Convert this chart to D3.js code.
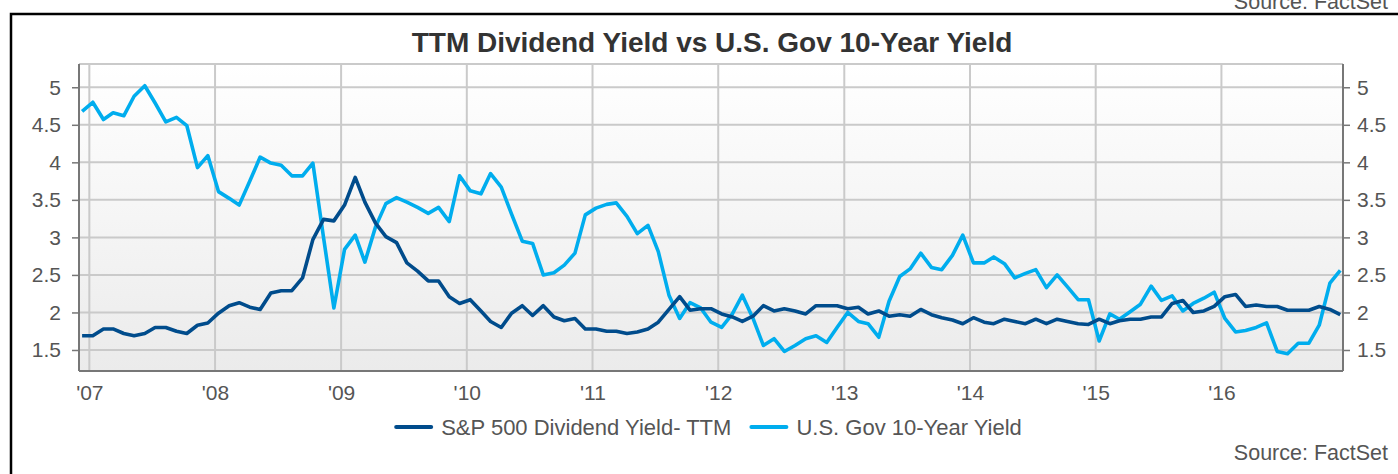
<!DOCTYPE html>
<html>
<head>
<meta charset="utf-8">
<script src="https://cdn.jsdelivr.net/npm/d3@7"></script>
<style>
  html, body { margin: 0; padding: 0; background: #ffffff; }
  svg { display: block; }
  text { font-family: "Liberation Sans", Arial, Helvetica, sans-serif; }
</style>
</head>
<body>
<svg id="chart" width="1398" height="474"></svg>
<script>
// ---------------- DATA ----------------
const chartTitle = "TTM Dividend Yield vs U.S. Gov 10-Year Yield";
const sourceText = "Source: FactSet";
const seriesNames = ["S&P 500 Dividend Yield- TTM", "U.S. Gov 10-Year Yield"];
const seriesColors = ["#004c8c", "#00adee"];
const firstMonth = new Date(2006, 11, 11);   // Dec 2006, monthly observations
const yTicks = [1.5, 2, 2.5, 3, 3.5, 4, 4.5, 5];
const yearTicks = [2007, 2008, 2009, 2010, 2011, 2012, 2013, 2014, 2015, 2016];

// S&P 500 dividend yield (TTM), monthly Dec-2006 .. Dec-2016
const divYield = [
  1.69, 1.69, 1.78, 1.78, 1.72, 1.69, 1.72, 1.80, 1.80, 1.75, 1.72, 1.83,
  1.86, 1.99, 2.09, 2.13, 2.07, 2.04, 2.26, 2.29, 2.29, 2.46, 2.97, 3.24,
  3.22, 3.43, 3.80, 3.47, 3.19, 3.01, 2.93, 2.66, 2.55, 2.42, 2.42, 2.21,
  2.12, 2.17, 2.02, 1.88, 1.80, 1.99, 2.09, 1.96, 2.09, 1.94, 1.89, 1.92,
  1.78, 1.78, 1.75, 1.75, 1.72, 1.74, 1.78, 1.87, 2.04, 2.21, 2.03, 2.05,
  2.05, 1.98, 1.94, 1.88, 1.95, 2.09, 2.02, 2.05, 2.02, 1.98, 2.09, 2.09,
  2.09, 2.05, 2.07, 1.98, 2.02, 1.95, 1.97, 1.95, 2.04, 1.97, 1.93, 1.90,
  1.85, 1.93, 1.87, 1.85, 1.91, 1.88, 1.85, 1.91, 1.85, 1.91, 1.88, 1.85,
  1.84, 1.91, 1.85, 1.89, 1.91, 1.91, 1.94, 1.94, 2.12, 2.16, 2.00, 2.02,
  2.08, 2.21, 2.24, 2.08, 2.10, 2.08, 2.08, 2.03, 2.03, 2.03, 2.08, 2.04,
  1.97
];

// U.S. Government 10-year yield, monthly Dec-2006 .. Dec-2016
const govYield = [
  4.68, 4.80, 4.57, 4.66, 4.62, 4.88, 5.02, 4.79, 4.54, 4.60, 4.49, 3.93,
  4.09, 3.61, 3.52, 3.43, 3.75, 4.07, 3.99, 3.96, 3.82, 3.82, 3.99, 3.00,
  2.06, 2.84, 3.03, 2.67, 3.14, 3.45, 3.53, 3.47, 3.40, 3.32, 3.40, 3.21,
  3.82, 3.62, 3.58, 3.85, 3.67, 3.31, 2.95, 2.92, 2.50, 2.53, 2.63, 2.79,
  3.30, 3.39, 3.44, 3.46, 3.28, 3.05, 3.16, 2.81, 2.23, 1.92, 2.13, 2.06,
  1.87, 1.80, 1.98, 2.23, 1.92, 1.56, 1.65, 1.48, 1.56, 1.65, 1.69, 1.60,
  1.80, 2.00, 1.88, 1.85, 1.67, 2.15, 2.48, 2.58, 2.79, 2.60, 2.57, 2.76,
  3.03, 2.66, 2.66, 2.74, 2.65, 2.46, 2.52, 2.57, 2.33, 2.50, 2.34, 2.17,
  2.17, 1.62, 1.98, 1.91, 2.01, 2.11, 2.35, 2.16, 2.22, 2.02, 2.12, 2.19,
  2.27, 1.92, 1.74, 1.76, 1.80, 1.86, 1.48, 1.45, 1.59, 1.59, 1.83, 2.39,
  2.56
];

// ---------------- CHART ----------------
const svg = d3.select("#chart");
const W = 1398, H = 474;
const plot = { left: 79, right: 1343, top: 64, bottom: 371 };

const dates = divYield.map((d, i) => d3.timeMonth.offset(firstMonth, i));

const x = d3.scaleTime()
  .domain([new Date(2006, 11, 2), new Date(2016, 11, 19)])
  .range([plot.left, plot.right]);
const y = d3.scaleLinear()
  .domain([1.22, 5.31])
  .range([plot.bottom, plot.top]);

// outer frame
svg.append("path")
  .attr("d", `M11,${H + 20} V14 H${W + 20}`)
  .attr("fill", "none").attr("stroke", "#000").attr("stroke-width", 2.5);

// source text at top, partly above the page edge as in the original
svg.append("text")
  .attr("x", 1388).attr("y", 9)
  .attr("text-anchor", "end")
  .attr("font-size", 21.5).attr("fill", "#555")
  .text(sourceText);

// title
svg.append("text")
  .attr("x", (plot.left + plot.right) / 2 + 1).attr("y", 52)
  .attr("text-anchor", "middle")
  .attr("font-size", 28).attr("font-weight", "bold").attr("fill", "#333")
  .text(chartTitle);

// plot background gradient
const defs = svg.append("defs");
const grad = defs.append("linearGradient").attr("id", "bg")
  .attr("x1", 0).attr("y1", 0).attr("x2", 0).attr("y2", 1);
grad.append("stop").attr("offset", "0%").attr("stop-color", "#ffffff");
grad.append("stop").attr("offset", "100%").attr("stop-color", "#ebebeb");

svg.append("rect")
  .attr("x", plot.left).attr("y", plot.top)
  .attr("width", plot.right - plot.left).attr("height", plot.bottom - plot.top)
  .attr("fill", "url(#bg)");

// gridlines
const grid = svg.append("g");
grid.selectAll(".hg").data(yTicks).enter().append("line")
  .attr("x1", plot.left).attr("x2", plot.right)
  .attr("y1", d => y(d)).attr("y2", d => y(d))
  .attr("stroke", "#cacaca").attr("stroke-width", 2);
grid.selectAll(".vg").data(yearTicks).enter().append("line")
  .attr("x1", d => x(new Date(d, 0, 1))).attr("x2", d => x(new Date(d, 0, 1)))
  .attr("y1", plot.top).attr("y2", plot.bottom)
  .attr("stroke", "#cacaca").attr("stroke-width", 2);
// plot top border
grid.append("line")
  .attr("x1", plot.left).attr("x2", plot.right)
  .attr("y1", plot.top).attr("y2", plot.top)
  .attr("stroke", "#cacaca").attr("stroke-width", 2);

// axes
const axisColor = "#777";
const fmtY = d3.format("");
const leftAxis = d3.axisLeft(y).tickValues(yTicks).tickSize(7).tickPadding(11).tickFormat(fmtY);
const rightAxis = d3.axisRight(y).tickValues(yTicks).tickSize(7).tickPadding(7).tickFormat(fmtY);
const bottomAxis = d3.axisBottom(x)
  .tickValues(yearTicks.map(d => new Date(d, 0, 1)))
  .tickSize(0).tickPadding(14)
  .tickFormat(d3.timeFormat("'%y"));

function styleAxis(g) {
  g.select(".domain").attr("stroke", axisColor).attr("stroke-width", 2);
  g.selectAll(".tick line").attr("stroke", axisColor).attr("stroke-width", 1.5);
  g.selectAll(".tick text").attr("fill", "#555").attr("font-size", 21)
    .attr("font-family", "'Liberation Sans', Arial, sans-serif");
}

svg.append("g").attr("transform", `translate(${plot.left},0)`).call(leftAxis)
  .call(g => g.select(".domain").attr("d", `M0,${plot.top}V${plot.bottom}`))
  .call(styleAxis);
svg.append("g").attr("transform", `translate(${plot.right},0)`).call(rightAxis)
  .call(g => g.select(".domain").attr("d", `M0,${plot.top}V${plot.bottom}`))
  .call(styleAxis);
svg.append("g").attr("transform", `translate(0,${plot.bottom})`).call(bottomAxis)
  .call(g => g.select(".domain").attr("d", `M${plot.left},0H${plot.right}`))
  .call(styleAxis);

// series lines
const line = d3.line().x((d, i) => x(dates[i])).y(d => y(d)).curve(d3.curveLinear);
const seriesData = [divYield, govYield];
svg.append("g").selectAll("path").data([1, 0]).enter().append("path")
  .attr("d", k => line(seriesData[k]))
  .attr("fill", "none")
  .attr("stroke", k => seriesColors[k])
  .attr("stroke-width", 3.6)
  .attr("stroke-linejoin", "round");

// legend
const legend = svg.append("g");
const legendY = 427;
const items = legend.selectAll("g").data(seriesNames).enter().append("g");
items.append("line")
  .attr("x1", 0).attr("x2", 35).attr("y1", 0).attr("y2", 0)
  .attr("stroke", (d, i) => seriesColors[i]).attr("stroke-width", 4)
  .attr("stroke-linecap", "round");
items.append("text")
  .attr("x", 45).attr("y", 8)
  .attr("font-size", 22).attr("fill", "#555")
  .text(d => d);
let widths = [];
items.each(function () { widths.push(this.getBBox().width); });
const gap = 20;
const total = d3.sum(widths) + gap * (widths.length - 1);
let cx = 709 - total / 2;
items.attr("transform", (d, i) => {
  const t = `translate(${cx},${legendY})`;
  cx += widths[i] + gap;
  return t;
});

// bottom source
svg.append("text")
  .attr("x", 1388).attr("y", 460)
  .attr("text-anchor", "end")
  .attr("font-size", 21.5).attr("fill", "#555")
  .text(sourceText);
</script>
</body>
</html>
